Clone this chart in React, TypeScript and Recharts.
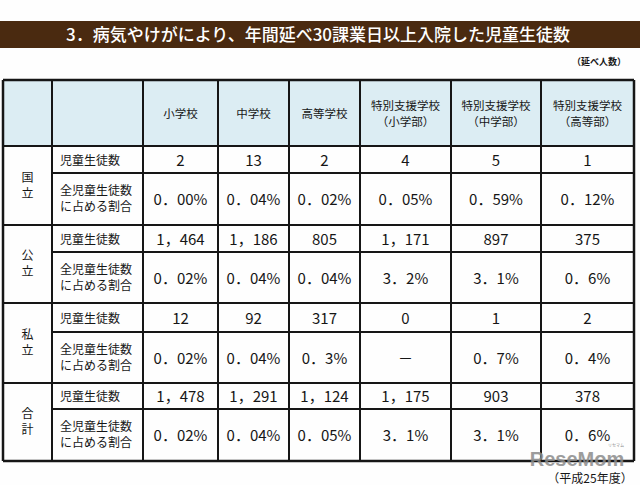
import { Surface, Layer, Rectangle, Text } from "recharts"

const TITLE = "3．病気やけがにより、年間延べ30課業日以上入院した児童生徒数"
const UNIT_NOTE = "（延べ人数）"
const YEAR_NOTE = "（平成25年度）"

const SCHOOL_TYPES = [
  ["小学校"],
  ["中学校"],
  ["高等学校"],
  ["特別支援学校", "（小学部）"],
  ["特別支援学校", "（中学部）"],
  ["特別支援学校", "（高等部）"],
]

const GROUPS = ["国立", "公立", "私立", "合計"]
const ROW_LABEL_COUNT = ["児童生徒数"]
const ROW_LABEL_RATIO = ["全児童生徒数", "に占める割合"]

const KOKURITSU_COUNTS = [2, 13, 2, 4, 5, 1]
const KOKURITSU_RATIOS = ["0.00%", "0.04%", "0.02%", "0.05%", "0.59%", "0.12%"]
const KORITSU_COUNTS = [1464, 1186, 805, 1171, 897, 375]
const KORITSU_RATIOS = ["0.02%", "0.04%", "0.04%", "3.2%", "3.1%", "0.6%"]
const SHIRITSU_COUNTS = [12, 92, 317, 0, 1, 2]
const SHIRITSU_RATIOS = ["0.02%", "0.04%", "0.3%", "－", "0.7%", "0.4%"]
const TOTAL_COUNTS = [1478, 1291, 1124, 1175, 903, 378]
const TOTAL_RATIOS = ["0.02%", "0.04%", "0.05%", "3.1%", "3.1%", "0.6%"]

const COUNTS = [KOKURITSU_COUNTS, KORITSU_COUNTS, SHIRITSU_COUNTS, TOTAL_COUNTS]
const RATIOS = [KOKURITSU_RATIOS, KORITSU_RATIOS, SHIRITSU_RATIOS, TOTAL_RATIOS]

// layout (px)
const COL_X = [3, 52, 143, 218, 289, 360, 451, 541, 634]
const ROW_Y = [80, 146, 173, 225, 252, 303, 332, 383, 409, 461]

const FONT = "'Noto Sans CJK JP', 'Noto Sans', sans-serif"
const INK = "#161616"
const HEAD_BG = "#dcedf3"
const BAND = "#4a2a10"

const fmtCount = (n: number) => n.toLocaleString("en-US").replace(/,/g, "，")
const fmtRatio = (s: string) => s.replace(".", "．")

function Lines({ x, cy, lines, size, anchor = "middle", gap = 16, weight = 400, fill = INK }: any) {
  const top = cy - ((lines.length - 1) * gap) / 2
  return (
    <>
      {lines.map((t: string, i: number) => (
        <Text key={i} x={x} y={top + i * gap} textAnchor={anchor} verticalAnchor="middle"
          fontSize={size} fontFamily={FONT} fontWeight={weight} fill={fill}>
          {t}
        </Text>
      ))}
    </>
  )
}

function TableChart() {
  const left = COL_X[0], right = COL_X[COL_X.length - 1]
  const top = ROW_Y[0], bottom = ROW_Y[ROW_Y.length - 1]
  const mid = (a: number, b: number) => (a + b) / 2

  return (
    <Surface width={640} height={485}>
      <rect x={0} y={0} width={640} height={485} fill="#fefefe" />

      {/* title band */}
      <Rectangle x={0} y={21} width={640} height={27} fill={BAND} />
      <Text x={318} y={35} textAnchor="middle" verticalAnchor="middle"
        fontSize={17} fontFamily={FONT} fontWeight={500} fill="#ffffff">
        {TITLE}
      </Text>
      <Text x={626} y={62} textAnchor="end" verticalAnchor="middle"
        fontSize={9} fontFamily={FONT} fontWeight={700} fill={INK}>
        {UNIT_NOTE}
      </Text>

      {/* header */}
      <Rectangle x={left} y={top} width={right - left} height={ROW_Y[1] - top} fill={HEAD_BG} />
      {SCHOOL_TYPES.map((lbl, i) => (
        <Lines key={i} x={mid(COL_X[i + 2], COL_X[i + 3])} cy={mid(ROW_Y[0], ROW_Y[1]) + 1}
          lines={lbl} size={11.5} gap={16} />
      ))}

      {/* body */}
      {GROUPS.map((g, gi) => {
        const y0 = ROW_Y[1 + gi * 2], y1 = ROW_Y[2 + gi * 2], y2 = ROW_Y[3 + gi * 2]
        return (
          <Layer key={g}>
            <Lines x={mid(COL_X[0], COL_X[1])} cy={mid(y0, y2)} lines={g.split("")} size={12} gap={16} />
            <Lines x={60} cy={mid(y0, y1) + 1} lines={ROW_LABEL_COUNT} size={12} anchor="start" />
            <Lines x={60} cy={mid(y1, y2)} lines={ROW_LABEL_RATIO} size={12} anchor="start" />
            {COUNTS[gi].map((v, i) => (
              <Lines key={"c" + i} x={mid(COL_X[i + 2], COL_X[i + 3])} cy={mid(y0, y1) + 1}
                lines={[fmtCount(v)]} size={15} />
            ))}
            {RATIOS[gi].map((v, i) => (
              <Lines key={"r" + i} x={mid(COL_X[i + 2], COL_X[i + 3])} cy={mid(y1, y2) + 1}
                lines={[fmtRatio(v)]} size={15} />
            ))}
          </Layer>
        )
      })}

      {/* grid lines */}
      {ROW_Y.map((y, i) => {
        const sub = i >= 2 && i % 2 === 0
        return (
          <line key={"h" + i} x1={sub ? COL_X[1] : left} x2={right} y1={y} y2={y}
            stroke={INK} strokeWidth={i === 0 || i === ROW_Y.length - 1 ? 2.5 : 2} />
        )
      })}
      {COL_X.map((x, i) => (
        <line key={"v" + i} x1={x} x2={x} y1={top} y2={bottom}
          stroke={INK} strokeWidth={i === 0 || i === COL_X.length - 1 ? 2.5 : 2} />
      ))}

      {/* footer */}
      <Text x={577} y={459} textAnchor="middle" verticalAnchor="middle"
        fontSize={20} fontFamily="'Liberation Sans', Arial, sans-serif" fontWeight={700}
        fill="#8c8c8c" opacity={0.85}>
        ReseMom
      </Text>
      <Text x={616} y={446} textAnchor="middle" verticalAnchor="middle"
        fontSize={4} fontFamily={FONT} fill="#8c8c8c">
        リセマム
      </Text>
      <Text x={590} y={479} textAnchor="middle" verticalAnchor="middle"
        fontSize={12} fontFamily={FONT} fill={INK}>
        {YEAR_NOTE}
      </Text>
    </Surface>
  )
}

export default function App() {
  return (
    <div style={{ position: "absolute", left: 0, top: 0, width: 640, height: 485, background: "#fefefe" }}>
      <TableChart />
    </div>
  )
}
